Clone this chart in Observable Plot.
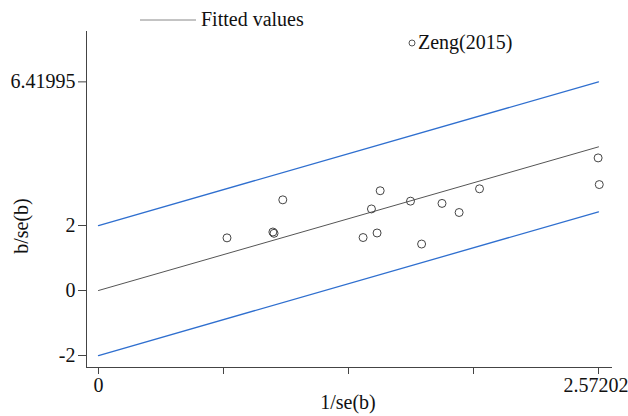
<!DOCTYPE html>
<html><head><meta charset="utf-8">
<script src="https://cdn.jsdelivr.net/npm/d3@7"></script>
<script src="https://cdn.jsdelivr.net/npm/@observablehq/plot@0.6"></script>
<style>body{margin:0;background:#fff}</style>
</head><body><div id="chart"></div>
<script>
// Study points: 1/se(b) and b/se(b)
const studyX = [0.661, 0.897, 0.903, 0.948, 1.361, 1.404, 1.433, 1.449, 1.605, 1.662, 1.767, 1.855, 1.960, 2.570, 2.576];
const studyY = [1.62, 1.80, 1.76, 2.79, 1.63, 2.51, 1.77, 3.07, 2.75, 1.43, 2.68, 2.40, 3.13, 4.08, 3.26];
// Fitted line and ±2 bounds (end points)
const lineX = [0, 2.57202];
const fittedY = [0, 4.41995];
const upperY = [2, 6.41995];
const lowerY = [-2, 2.41995];
// Ticks
const yTicks = [-2, 0, 2, 6.41995];
const yTickLabels = ["-2", "0", "2", "6.41995"];
const xTicks = [0, 0.643005, 1.28601, 1.929015, 2.57202];
const xTickLabels = ["0", "", "", "", "2.57202"];
const legendLabels = ["Fitted values", "Zeng(2015)"];
const xTitle = "1/se(b)";
const yTitle = "b/se(b)";

const xDomain = [-0.0617, 2.644];
const yDomain = [-2.369, 7.97];
const font = "Liberation Serif, Times New Roman, serif";

const legend = () => {
  const g = d3.create("svg:g").attr("font-family", font).attr("font-size", 20).attr("fill", "#111");
  g.append("line").attr("x1", 140).attr("x2", 196).attr("y1", 20).attr("y2", 20).attr("stroke", "#888").attr("stroke-width", 1);
  g.append("text").attr("x", 201).attr("y", 21).attr("text-anchor", "start").attr("dominant-baseline", "middle").text(legendLabels[0]);
  g.append("circle").attr("cx", 412).attr("cy", 43).attr("r", 3).attr("fill", "none").attr("stroke", "#555");
  g.append("text").attr("x", 418).attr("y", 44).attr("text-anchor", "start").attr("dominant-baseline", "middle").text(legendLabels[1]);
  g.append("text").attr("x", 348).attr("y", 404).attr("text-anchor", "middle").attr("dominant-baseline", "middle").text(xTitle);
  g.append("text").attr("transform", "translate(23,226) rotate(-90)").attr("text-anchor", "middle").attr("dominant-baseline", "middle").text(yTitle);
  return g.node();
};

const chart = Plot.plot({
  width: 628,
  height: 416,
  marginLeft: 86,
  marginRight: 16,
  marginTop: 31,
  marginBottom: 49,
  x: {domain: xDomain},
  y: {domain: yDomain},
  style: {fontFamily: font, fontSize: "20px", background: "white", color: "#111"},
  marks: [
    Plot.axisY(yTicks, {tickSize: 8, tickPadding: 3, fontSize: 20, stroke: "#444", tickFormat: (d) => yTickLabels[yTicks.indexOf(d)], label: null}),
    Plot.axisX(xTicks, {tickSize: 7, tickPadding: 3, fontSize: 20, stroke: "#444", textStroke: "none", tickFormat: (d) => xTickLabels[xTicks.indexOf(d)], label: null}),
    Plot.ruleX([xDomain[0]], {stroke: "#444"}),
    Plot.ruleY([yDomain[0]], {stroke: "#444"}),
    Plot.line(lineX, {x: (d) => d, y: (d, i) => upperY[i], stroke: "#2f6fcf", strokeWidth: 1.3}),
    Plot.line(lineX, {x: (d) => d, y: (d, i) => lowerY[i], stroke: "#2f6fcf", strokeWidth: 1.3}),
    Plot.line(lineX, {x: (d) => d, y: (d, i) => fittedY[i], stroke: "#555", strokeWidth: 1}),
    Plot.dot(studyX, {x: (d) => d, y: (d, i) => studyY[i], r: 4, stroke: "#444", fill: "none", strokeWidth: 1}),
    legend
  ]
});
// keep the right-most x tick label inside the picture
chart.querySelectorAll("g[aria-label='x-axis tick label'] text").forEach((t) => {
  if (t.textContent === "2.57202") t.setAttribute("text-anchor", "end"), t.setAttribute("dx", "30");
});
document.getElementById("chart").appendChild(chart);
</script>
</body></html>
